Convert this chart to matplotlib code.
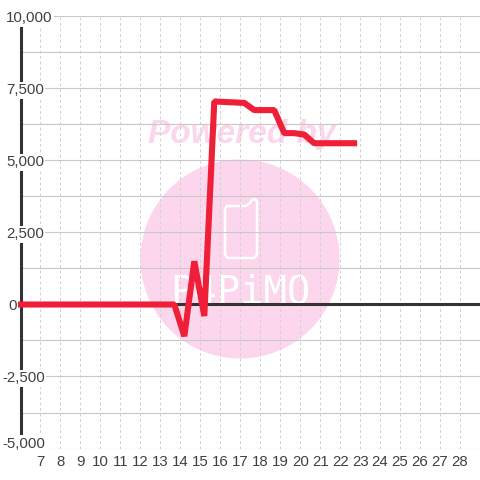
import matplotlib
matplotlib.use("Agg")
import matplotlib.pyplot as plt
from matplotlib.lines import Line2D
from matplotlib.patches import Circle

# values
days = [7, 8, 9, 10, 11, 12, 13, 14, 15, 16, 17, 18, 19, 20, 21, 22, 23, 24, 25, 26, 27, 28]
y_ticks = [-5000, -2500, 0, 2500, 5000, 7500, 10000]
y_minor = [-3750, -1250, 1250, 3750, 6250, 8750]
line_x = [5.8, 13.7, 14.2, 14.7, 15.2, 15.7, 17.2, 17.7, 18.7, 19.2, 19.7, 20.2, 20.7, 22.85]
line_y = [0, 0, -1100, 1500, -400, 7050, 7000, 6750, 6750, 5950, 5950, 5900, 5600, 5600]

W = 480
H = 480
TEXT = "#404040"
PINK = "#fbd6ec"
plt.rcParams["font.family"] = ["Liberation Sans", "DejaVu Sans"]

fig = plt.figure(figsize=(4.8, 4.8), dpi=100)
ax = fig.add_axes([20.5 / W, 1 - 448.5 / H, (W - 20.5) / W, (448.5 - 16.5) / H])
ax.set_xlim(6, 29)
ax.set_ylim(-5000, 10000)
ax.patch.set_visible(False)


def fx(px):
    return px / W


def fy(px):
    return 1 - px / H


# watermark sits behind everything, in pixel positions of the figure
fig.add_artist(Circle((fx(240), fy(259)), 99.5 / W, transform=fig.transFigure,
                      facecolor=PINK, edgecolor="none", zorder=-3))
fig.text(fx(241.5), fy(135), "Powered by", color=PINK, fontsize=24, fontweight="bold",
         fontstyle="italic", ha="center", va="center", zorder=-2)
fig.text(fx(240), fy(304), "P4PiMO", color="white", fontsize=28, ha="center", va="baseline",
         family="DejaVu Sans Mono", zorder=-2)
phone_x = [230, 246, 250, 252, 255, 257, 257, 254, 228, 225, 225, 227, 230]
phone_y = [206, 206, 203, 200, 199, 201, 255, 258, 258, 255, 209, 206, 206]
fig.add_artist(Line2D([fx(p) for p in phone_x], [fy(p) for p in phone_y], transform=fig.transFigure,
                      color="white", linewidth=1.8, solid_joinstyle="round", zorder=-2))

ax.set_xticks(days)
ax.set_xticklabels([str(d) for d in days], fontsize=10.8, color=TEXT)
ax.set_yticks(y_ticks)
ax.set_yticks(y_minor, minor=True)
ax.set_yticklabels([])
ax.tick_params(which="both", length=0)
ax.tick_params(axis="x", pad=4.5)

ax.grid(axis="x", color="#d2d2d2", linewidth=0.72, linestyle=(0, (3, 2.5)))
ax.grid(axis="y", which="both", color="#c8c8c8", linewidth=0.8)
ax.set_axisbelow(True)

for side in ["top", "right", "bottom"]:
    ax.spines[side].set_visible(False)
ax.spines["left"].set_color("#333333")
ax.spines["left"].set_linewidth(2.2)
ax.spines["left"].set_bounds(-4566, 9740)

ax.axhline(0, color="#333333", linewidth=2.2, zorder=2)
ax.plot(line_x, line_y, color="#f01f38", linewidth=4.4, solid_joinstyle="bevel",
        solid_capstyle="butt", zorder=3, clip_on=False)

# y labels are left aligned and blank out the axis behind them
for v in y_ticks:
    left = 2 if v < 0 else (8 if v == 0 else 6)
    nudge = 5 if v == y_ticks[0] else -2  # bottom label is pushed up in the reference
    ax.annotate(f"{v:,}", xy=(0, v), xycoords=("figure pixels", "data"), xytext=(left, nudge),
                textcoords="offset pixels", ha="left", va="center", fontsize=10.8, color=TEXT,
                bbox=dict(facecolor="white", edgecolor="none", pad=1), zorder=5, annotation_clip=False)

fig.savefig("out.png", dpi=100)
